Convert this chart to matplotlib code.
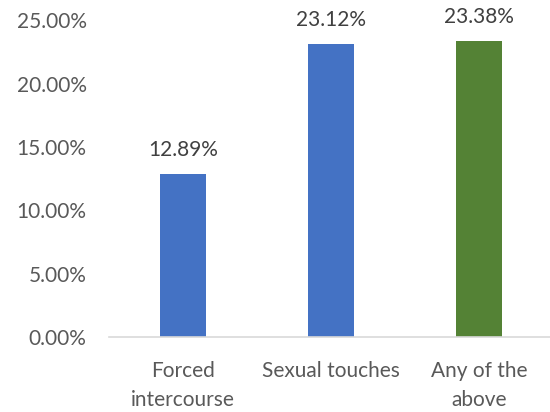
import matplotlib.pyplot as plt
from matplotlib.ticker import FuncFormatter

plt.rcParams['font.family'] = ['Lato', 'DejaVu Sans']

categories = ['Forced\nintercourse', 'Sexual touches', 'Any of the\nabove']
values = [12.89, 23.12, 23.38]
colors = ['#4472C4', '#4472C4', '#548235']
y_ticks = [0, 5, 10, 15, 20, 25]

text_color = '#595959'

fig = plt.figure(figsize=(5.5, 4.12), dpi=100)
ax = fig.add_axes([0.198, 0.182, 0.802, 0.769])

x = list(range(len(categories)))
bars = ax.bar(x, values, width=0.31, color=colors)

# data labels above each bar
for xi, v in zip(x, values):
    ax.annotate(f'{v:.2f}%', (xi, v), xytext=(0, 10), textcoords='offset points',
                ha='center', va='bottom', fontsize=15, color='#404040')

ax.set_xlim(-0.5, 2.48)
ax.set_ylim(0, 25)
ax.set_yticks(y_ticks)
ax.yaxis.set_major_formatter(FuncFormatter(lambda v, p: f'{v:.2f}%'))
ax.set_xticks(x)
ax.set_xticklabels(categories, linespacing=1.6)

for s in ['top', 'right', 'left']:
    ax.spines[s].set_visible(False)
ax.spines['bottom'].set_color('#D9D9D9')
ax.spines['bottom'].set_linewidth(1.2)
ax.tick_params(axis='both', length=0, labelsize=15, colors=text_color)
ax.tick_params(axis='y', pad=16)
ax.tick_params(axis='x', pad=17)

fig.savefig('out.png', dpi=100)
